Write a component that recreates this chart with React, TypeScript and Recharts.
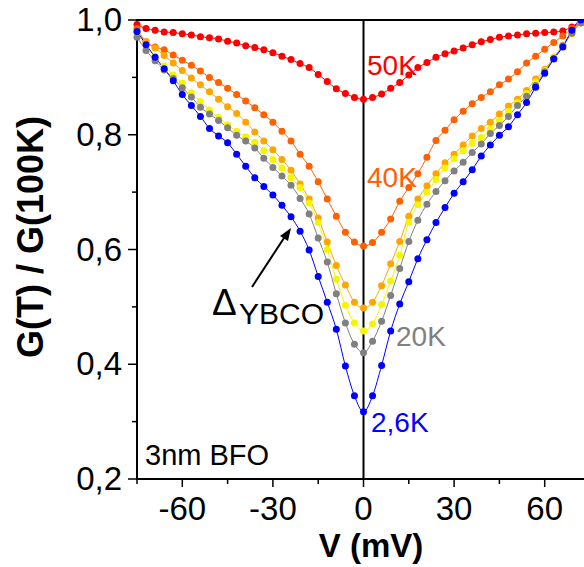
import React from 'react';
import { LineChart, Line, XAxis, YAxis, ReferenceLine, ReferenceArea } from 'recharts';

// bias voltage (mV), shared by every temperature curve
const volts = [
  -75, -72, -69, -66, -63, -60, -57, -54, -51, -48, -45, -42, -39, -36, -33, -30, -27, -24, -21, -18, -15, -12, -9, -6, -3,
  0, 3, 6, 9, 12, 15, 18, 21, 24, 27, 30, 33, 36, 39, 42, 45, 48, 51, 54, 57, 60, 63, 66, 69, 72, 75,
];

const g50K = [
  0.992, 0.985, 0.982, 0.979, 0.978, 0.976, 0.974, 0.971, 0.969, 0.967, 0.963, 0.96, 0.955, 0.952, 0.948, 0.943, 0.937, 0.931, 0.924, 0.917, 0.905, 0.893, 0.88, 0.872, 0.865,
  0.862, 0.865, 0.871, 0.881, 0.891, 0.904, 0.917, 0.926, 0.935, 0.941, 0.946, 0.951, 0.957, 0.962, 0.966, 0.97, 0.972, 0.974, 0.976, 0.977, 0.978, 0.979, 0.981, 0.988, 0.995, 1.0,
];
const g40K = [
  0.985, 0.962, 0.953, 0.948, 0.939, 0.93, 0.921, 0.911, 0.9, 0.891, 0.881, 0.87, 0.859, 0.847, 0.835, 0.822, 0.806, 0.789, 0.766, 0.745, 0.718, 0.688, 0.658, 0.63, 0.613,
  0.606, 0.612, 0.63, 0.653, 0.684, 0.708, 0.732, 0.761, 0.79, 0.808, 0.826, 0.841, 0.854, 0.865, 0.875, 0.887, 0.897, 0.91, 0.925, 0.937, 0.949, 0.961, 0.972, 0.985, 0.995, 1.0,
];
const g30K = [
  0.98, 0.962, 0.951, 0.938, 0.925, 0.912, 0.899, 0.887, 0.875, 0.862, 0.849, 0.837, 0.822, 0.805, 0.789, 0.774, 0.757, 0.738, 0.714, 0.688, 0.655, 0.613, 0.572, 0.538, 0.508,
  0.498, 0.508, 0.537, 0.575, 0.614, 0.658, 0.688, 0.711, 0.732, 0.751, 0.766, 0.782, 0.798, 0.811, 0.822, 0.836, 0.85, 0.862, 0.877, 0.897, 0.914, 0.935, 0.956, 0.98, 0.995, 1.0,
];
const g25K = [
  0.975, 0.955, 0.937, 0.92, 0.904, 0.89, 0.873, 0.858, 0.843, 0.83, 0.817, 0.806, 0.796, 0.787, 0.772, 0.757, 0.742, 0.725, 0.708, 0.681, 0.647, 0.6, 0.548, 0.503, 0.472,
  0.458, 0.47, 0.504, 0.545, 0.59, 0.648, 0.678, 0.7, 0.722, 0.742, 0.758, 0.772, 0.785, 0.795, 0.81, 0.825, 0.841, 0.856, 0.872, 0.892, 0.912, 0.934, 0.955, 0.975, 0.995, 1.0,
];
const g20K = [
  0.97, 0.947, 0.929, 0.913, 0.898, 0.882, 0.866, 0.848, 0.836, 0.825, 0.812, 0.799, 0.789, 0.777, 0.759, 0.743, 0.728, 0.712, 0.689, 0.662, 0.62, 0.578, 0.523, 0.472, 0.435,
  0.42, 0.44, 0.475, 0.52, 0.567, 0.614, 0.651, 0.679, 0.701, 0.72, 0.737, 0.752, 0.769, 0.784, 0.802, 0.816, 0.832, 0.851, 0.867, 0.886, 0.91, 0.933, 0.955, 0.977, 0.995, 1.0,
];
const g2K6 = [
  0.98, 0.957, 0.935, 0.915, 0.894, 0.87, 0.851, 0.832, 0.811, 0.798, 0.786, 0.766, 0.745, 0.725, 0.71, 0.695, 0.677, 0.657, 0.632, 0.599, 0.553, 0.508, 0.461, 0.397, 0.345,
  0.317, 0.345, 0.398, 0.458, 0.505, 0.544, 0.584, 0.617, 0.647, 0.673, 0.698, 0.718, 0.739, 0.763, 0.782, 0.799, 0.814, 0.835, 0.856, 0.883, 0.907, 0.932, 0.953, 0.982, 1.0, 1.0,
];

const xTicks = [-75, -60, -45, -30, -15, 0, 15, 30, 45, 60, 75];
const yTicks = [0.2, 0.3, 0.4, 0.5, 0.6, 0.7, 0.8, 0.9, 1.0];

const series = [
  { key: 't50', color: '#ff0000', values: g50K },
  { key: 't40', color: '#ff6000', values: g40K },
  { key: 't30', color: '#ffa500', values: g30K },
  { key: 't25', color: '#f5f500', values: g25K },
  { key: 't20', color: '#808080', values: g20K },
  { key: 't2', color: '#0000ff', values: g2K6 },
];

const data = volts.map((v, i) => {
  const row: Record<string, number> = { v };
  series.forEach((s) => { row[s.key] = s.values[i]; });
  return row;
});

const FONT = '"Liberation Sans", Arial, sans-serif';

const isMajorX = (v: number) => v % 30 === 0;
const isMajorY = (v: number) => Math.round(v * 10) % 2 === 0;

function BottomTick({ x, y, payload }: any) {
  const v = payload.value;
  const major = isMajorX(v);
  return (
    <g>
      <line x1={x} x2={x} y1={y} y2={y + (major ? 8 : 5)} stroke="#000" strokeWidth={1.5} />
      {major && (
        <text x={x} y={y + 41} textAnchor="middle" fontSize={33} fontFamily={FONT} fill="#000">{v}</text>
      )}
    </g>
  );
}

function TopTick({ x, y, payload }: any) {
  const major = isMajorX(payload.value);
  return <line x1={x} x2={x} y1={y} y2={y + (major ? 8 : 5)} stroke="#000" strokeWidth={1.5} />;
}

function LeftTick({ x, y, payload }: any) {
  const v = payload.value;
  const major = isMajorY(v);
  return (
    <g>
      <line x1={x} x2={x - (major ? 9 : 5)} y1={y} y2={y} stroke="#000" strokeWidth={1.5} />
      {major && (
        <text x={x - 15} y={y + 11} textAnchor="end" fontSize={33} fontFamily={FONT} fill="#000">
          {v.toFixed(1).replace('.', ',')}
        </text>
      )}
    </g>
  );
}

function RightTick({ x, y, payload }: any) {
  const major = isMajorY(payload.value);
  return <line x1={x} x2={x - (major ? 8 : 5)} y1={y} y2={y} stroke="#000" strokeWidth={1.5} />;
}

export default function App() {
  return (
    <div style={{ position: 'absolute', left: 0, top: 0, width: 584, height: 567, overflow: 'hidden', background: '#fff' }}>
      <LineChart width={600} height={567} data={data} margin={{ top: 20, right: 10, bottom: 0, left: 0 }}>
        <XAxis dataKey="v" type="number" domain={[-75, 75]} ticks={xTicks} height={88}
          tickSize={0} tickMargin={0} tickLine={false} tick={<BottomTick />} interval={0}
          axisLine={{ stroke: '#000', strokeWidth: 2 }} />
        <XAxis xAxisId="top" orientation="top" dataKey="v" type="number" domain={[-75, 75]} ticks={xTicks} height={0}
          tickSize={0} tickMargin={0} tickLine={false} tick={<TopTick />} interval={0}
          axisLine={{ stroke: '#000', strokeWidth: 2 }} />
        <YAxis type="number" domain={[0.2, 1.0]} ticks={yTicks} width={137} allowDataOverflow
          tickSize={0} tickMargin={0} tickLine={false} tick={<LeftTick />} interval={0}
          axisLine={{ stroke: '#000', strokeWidth: 2 }} />
        <YAxis yAxisId="r" orientation="right" type="number" domain={[0.2, 1.0]} ticks={yTicks} width={0}
          tickSize={0} tickMargin={0} tickLine={false} tick={<RightTick />} interval={0}
          axisLine={{ stroke: '#000', strokeWidth: 2 }} />
        <ReferenceArea x1={-75} x2={75} y1={0.2} y2={1.0} fill="none" fillOpacity={0}
          stroke="#000" strokeWidth={2} ifOverflow="visible" />
        {series.map((s) => (
          <Line key={s.key} dataKey={s.key} type="monotone" stroke={s.color} strokeWidth={1}
            dot={{ r: 3.5, fill: s.color, stroke: s.color, strokeWidth: 0 }} activeDot={false}
            isAnimationActive={false} />
        ))}
        <ReferenceLine x={0} stroke="#000" strokeWidth={2} />
      </LineChart>
      <svg width={584} height={567} style={{ position: 'absolute', left: 0, top: 0, pointerEvents: 'none' }}
        fontFamily={FONT}>
        <text x={367} y={75} fontSize={28} fill="#ff0000">50K</text>
        <text x={367} y={187} fontSize={28} fill="#ff6000">40K</text>
        <text x={396} y={346} fontSize={28} fill="#808080">20K</text>
        <text x={371} y={432} fontSize={28} fill="#0000ff">2,6K</text>
        <text x={145} y={465} fontSize={29} fill="#000">3nm BFO</text>
        <text x={212} y={315} fontSize={37} fill="#000">Δ</text>
        <text x={239} y={324} fontSize={30} fill="#000">YBCO</text>
        <line x1={252} y1={287} x2={284} y2={238} stroke="#000" strokeWidth={2} />
        <polygon points="291,228 280,236 288,241" fill="#000" />
        <text x={371} y={557} fontSize={33} fontWeight="bold" textAnchor="middle" fill="#000">V (mV)</text>
        <text x={43} y={237} fontSize={36} fontWeight="bold" textAnchor="middle" fill="#000"
          transform="rotate(-90 43 237)">G(T) / G(100K)</text>
      </svg>
    </div>
  );
}
